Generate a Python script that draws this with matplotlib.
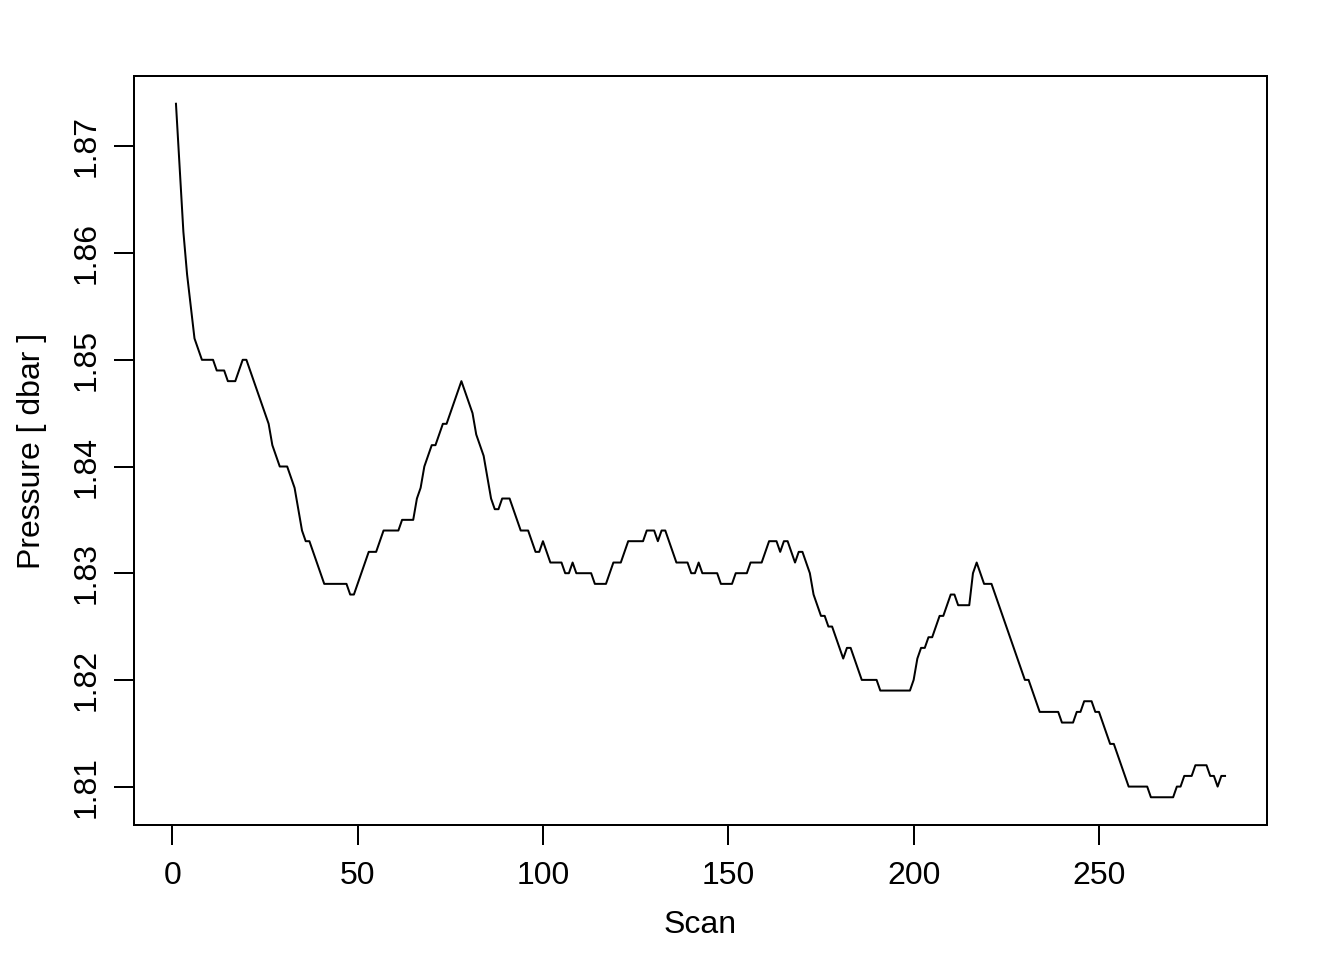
import numpy as np
import matplotlib
matplotlib.use("Agg")
import matplotlib.pyplot as plt

# pressure per scan (dbar)
pressure = [
    1.874, 1.868, 1.862, 1.858, 1.855, 1.852, 1.851, 1.850, 1.850, 1.850,
    1.850, 1.849, 1.849, 1.849, 1.848, 1.848, 1.848, 1.849, 1.850, 1.850,
    1.849, 1.848, 1.847, 1.846, 1.845, 1.844, 1.842, 1.841, 1.840, 1.840,
    1.840, 1.839, 1.838, 1.836, 1.834, 1.833, 1.833, 1.832, 1.831, 1.830,
    1.829, 1.829, 1.829, 1.829, 1.829, 1.829, 1.829, 1.828, 1.828, 1.829,
    1.830, 1.831, 1.832, 1.832, 1.832, 1.833, 1.834, 1.834, 1.834, 1.834,
    1.834, 1.835, 1.835, 1.835, 1.835, 1.837, 1.838, 1.840, 1.841, 1.842,
    1.842, 1.843, 1.844, 1.844, 1.845, 1.846, 1.847, 1.848, 1.847, 1.846,
    1.845, 1.843, 1.842, 1.841, 1.839, 1.837, 1.836, 1.836, 1.837, 1.837,
    1.837, 1.836, 1.835, 1.834, 1.834, 1.834, 1.833, 1.832, 1.832, 1.833,
    1.832, 1.831, 1.831, 1.831, 1.831, 1.830, 1.830, 1.831, 1.830, 1.830,
    1.830, 1.830, 1.830, 1.829, 1.829, 1.829, 1.829, 1.830, 1.831, 1.831,
    1.831, 1.832, 1.833, 1.833, 1.833, 1.833, 1.833, 1.834, 1.834, 1.834,
    1.833, 1.834, 1.834, 1.833, 1.832, 1.831, 1.831, 1.831, 1.831, 1.830,
    1.830, 1.831, 1.830, 1.830, 1.830, 1.830, 1.830, 1.829, 1.829, 1.829,
    1.829, 1.830, 1.830, 1.830, 1.830, 1.831, 1.831, 1.831, 1.831, 1.832,
    1.833, 1.833, 1.833, 1.832, 1.833, 1.833, 1.832, 1.831, 1.832, 1.832,
    1.831, 1.830, 1.828, 1.827, 1.826, 1.826, 1.825, 1.825, 1.824, 1.823,
    1.822, 1.823, 1.823, 1.822, 1.821, 1.820, 1.820, 1.820, 1.820, 1.820,
    1.819, 1.819, 1.819, 1.819, 1.819, 1.819, 1.819, 1.819, 1.819, 1.820,
    1.822, 1.823, 1.823, 1.824, 1.824, 1.825, 1.826, 1.826, 1.827, 1.828,
    1.828, 1.827, 1.827, 1.827, 1.827, 1.830, 1.831, 1.830, 1.829, 1.829,
    1.829, 1.828, 1.827, 1.826, 1.825, 1.824, 1.823, 1.822, 1.821, 1.820,
    1.820, 1.819, 1.818, 1.817, 1.817, 1.817, 1.817, 1.817, 1.817, 1.816,
    1.816, 1.816, 1.816, 1.817, 1.817, 1.818, 1.818, 1.818, 1.817, 1.817,
    1.816, 1.815, 1.814, 1.814, 1.813, 1.812, 1.811, 1.810, 1.810, 1.810,
    1.810, 1.810, 1.810, 1.809, 1.809, 1.809, 1.809, 1.809, 1.809, 1.809,
    1.810, 1.810, 1.811, 1.811, 1.811, 1.812, 1.812, 1.812, 1.812, 1.811,
    1.811, 1.810, 1.811, 1.811,
]
scan = np.arange(1, len(pressure) + 1)

x_ticks = [0, 50, 100, 150, 200, 250]
y_ticks = [1.81, 1.82, 1.83, 1.84, 1.85, 1.86, 1.87]

plt.rcParams['font.family'] = ['Liberation Sans', 'DejaVu Sans']

fig = plt.figure(figsize=(7, 5), dpi=192)
ax = fig.add_axes([134 / 1344, 1 - 825 / 960, (1267 - 134) / 1344, (825 - 76) / 960])

ax.plot(scan, pressure, color='black', lw=0.75)

# R-style 4% padding
xr = scan.max() - scan.min()
ax.set_xlim(scan.min() - 0.04 * xr, scan.max() + 0.04 * xr)
yr = max(pressure) - min(pressure)
ax.set_ylim(min(pressure) - 0.04 * yr, max(pressure) + 0.04 * yr)

ax.set_xticks(x_ticks)
ax.set_xticklabels([str(t) for t in x_ticks])
ax.set_yticks(y_ticks)
ax.set_yticklabels(['%.2f' % t for t in y_ticks], rotation=90, va='center')

ax.tick_params(direction='out', length=7.5, width=0.75, labelsize=12, pad=6)
ax.tick_params(axis='y', pad=4.5)
for s in ax.spines.values():
    s.set_linewidth(0.75)

ax.set_xlabel('Scan', fontsize=12, va='center')
ax.xaxis.set_label_coords(0.5, -(925 - 825) / 749)
ax.set_ylabel('Pressure [ dbar ]', fontsize=12, va='center')
ax.yaxis.set_label_coords(-(134 - 32) / 1133, 0.5)

fig.savefig('out.png', dpi=192)
